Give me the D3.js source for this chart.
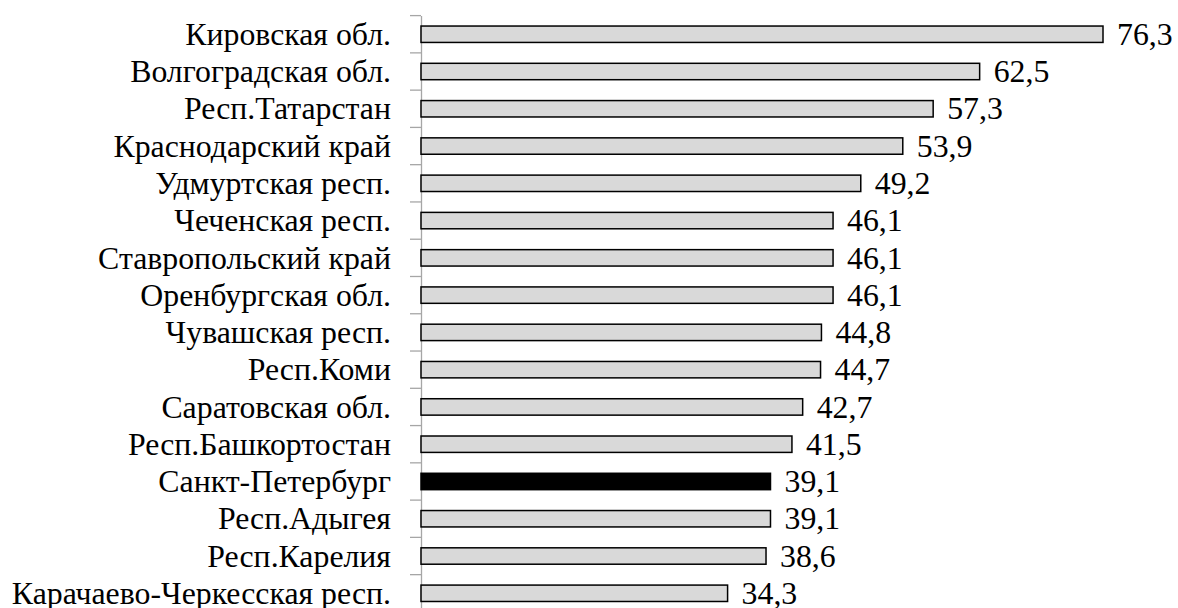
<!DOCTYPE html>
<html><head><meta charset="utf-8">
<script src="https://cdn.jsdelivr.net/npm/d3@7"></script>
<style>body{margin:0;background:#fff}svg{display:block}</style>
</head><body>
<svg id="c" width="1178" height="608"></svg>
<script>
const categories = ["Кировская обл.","Волгоградская обл.","Респ.Татарстан","Краснодарский край","Удмуртская респ.","Чеченская респ.","Ставропольский край","Оренбургская обл.","Чувашская респ.","Респ.Коми","Саратовская обл.","Респ.Башкортостан","Санкт-Петербург","Респ.Адыгея","Респ.Карелия","Карачаево-Черкесская респ."];
const values = [76.3,62.5,57.3,53.9,49.2,46.1,46.1,46.1,44.8,44.7,42.7,41.5,39.1,39.1,38.6,34.3];
const highlight = ["Санкт-Петербург"];

const svg = d3.select("#c");
const x0 = 421, yTop = 15.6, step = 37.27, fs = 31.8;
const font = '"Liberation Serif", "Times New Roman", serif';
const x = d3.scaleLinear().domain([0, 76.3]).range([x0, 1103]);
const y = d3.scaleBand().domain(categories).range([yTop, yTop + step*categories.length]).paddingInner(0.56).paddingOuter(0.28);

// axis
const yAxis = d3.axisLeft(y).tickSize(0).tickFormat("");
const g = svg.append("g").attr("transform", `translate(${x0},0)`).call(yAxis);
g.select(".domain").attr("stroke", "#a6a6a6").attr("stroke-width", 1.3);
// tick marks at category boundaries
const bounds = d3.range(categories.length + 1).map(i => yTop + i*step);
svg.append("g").selectAll("line").data(bounds).join("line")
  .attr("x1", x0 - 11).attr("x2", x0).attr("y1", d => d).attr("y2", d => d)
  .attr("stroke", "#a6a6a6").attr("stroke-width", 1.3);

// bars
svg.append("g").selectAll("rect").data(categories).join("rect")
  .attr("x", x(0)).attr("y", d => y(d))
  .attr("width", (d,i) => x(values[i]) - x(0)).attr("height", y.bandwidth())
  .attr("fill", d => highlight.includes(d) ? "#000" : "#d9d9d9")
  .attr("stroke", "#000").attr("stroke-width", 1.5);

// value labels
svg.append("g").selectAll("text").data(categories).join("text")
  .attr("x", (d,i) => x(values[i]) + 14).attr("y", d => y(d) + y.bandwidth()/2)
  .attr("dy", "0.335em").style("font-family", font).style("font-size", fs + "px").attr("fill", "#000")
  .text((d,i) => values[i].toFixed(1).replace(".", ","));

// category labels
svg.append("g").selectAll("text").data(categories).join("text")
  .attr("x", 391).attr("y", d => y(d) + y.bandwidth()/2)
  .attr("dy", "0.335em").attr("text-anchor", "end")
  .style("font-family", font).style("font-size", fs + "px").attr("fill", "#000")
  .text(d => d);
</script>
</body></html>
